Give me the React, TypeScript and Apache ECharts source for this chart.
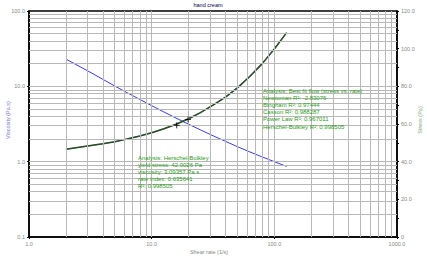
import React, { useEffect, useRef } from "react";
import * as echarts from "echarts";

// Shear rate (1/s)
const shearRate = [2, 3, 4, 5, 6.3, 8, 10, 12.6, 15.8, 20, 25, 31.6, 40, 50, 63, 79, 100, 126];
// Viscosity (Pa.s), left log axis
const viscosity = [23, 16.1, 12.4, 10.1, 8.25, 6.7, 5.54, 4.56, 3.79, 3.14, 2.64, 2.21, 1.86, 1.58, 1.35, 1.16, 1.0, 0.865];
// Stress (Pa), right linear axis
const stress = [46.6, 48.3, 49.5, 50.6, 52.0, 53.6, 55.4, 57.5, 59.9, 62.8, 66.0, 70.0, 74.3, 79.2, 85.2, 91.8, 99.8, 108.5];
// analysis range markers
const markerRate = [16, 19.8];
const markerStress = [59.3, 62.4];

const titleText = "hand cream";
const xName = "Shear rate (1/s)";
const yLeftName = "Viscosity (Pa.s)";
const yRightName = "Stress (Pa)";

const bestFitLines = [
  "Analysis: Best fit flow (stress vs. rate)",
  "Newtonian R²: -2.83076",
  "Bingham R²: 0.97444",
  "Casson R²: 0.988287",
  "Power Law R²: 0.967011",
  "Herschel-Bulkley R²: 0.998505",
];
const hbLines = [
  "Analysis: Herschel-Bulkley",
  "yield stress: 42.0026 Pa",
  "viscosity: 3.09357 Pa.s",
  "rate index: 0.635641",
  "R²: 0.998505",
];

const decadeMultipliers = [1, 2, 3, 4, 5, 6, 7, 8, 9];
const xDecades = [1, 10, 100];
const yDecades = [0.1, 1, 10];

export default function App() {
  const ref = useRef<HTMLDivElement>(null);
  useEffect(() => {
    if (!ref.current) return;
    document.body.style.margin = "0";
    const chart = echarts.init(ref.current, undefined, { renderer: "svg" });
    const xGrid: number[] = [];
    xDecades.forEach((d) => decadeMultipliers.forEach((m) => { const v = +(d * m).toPrecision(3); if (v > 1) xGrid.push(v); }));
    const yGrid: number[] = [];
    yDecades.forEach((d) => decadeMultipliers.forEach((m) => { const v = +(d * m).toPrecision(3); if (v > 0.1) yGrid.push(v); }));

    const font = "'Liberation Sans', Arial, sans-serif";
    const green = "#2a9a1a";

    chart.setOption({
      animation: false,
      grid: { left: 29, right: 30, top: 11, bottom: 22, show: true, borderColor: "#000", borderWidth: 1.5, backgroundColor: "#fff" },
      xAxis: {
        type: "log", logBase: 10, min: 1, max: 1000,
        axisLine: { show: true, lineStyle: { color: "#000", width: 1.5 } },
        axisTick: { show: true, length: 2, lineStyle: { color: "#000" } },
        axisLabel: { formatter: (v: number) => v.toFixed(1), fontSize: 5.5, color: "#888", margin: 4, fontFamily: font },
        splitLine: { show: false },
      },
      yAxis: [
        {
          type: "log", logBase: 10, min: 0.1, max: 100, position: "left",
          axisLine: { show: true, lineStyle: { color: "#000", width: 1.5 } },
          axisTick: { show: true, length: 2, lineStyle: { color: "#000" } },
          axisLabel: { formatter: (v: number) => v.toFixed(1), fontSize: 5.5, color: "#888", margin: 4, fontFamily: font },
          splitLine: { show: false },
        },
        {
          type: "value", min: 0, max: 120, interval: 20, position: "right",
          axisLine: { show: true, lineStyle: { color: "#000", width: 1.5 } },
          axisTick: { show: true, length: 2, lineStyle: { color: "#000" } },
          minorTick: { show: true, splitNumber: 2, length: 2, lineStyle: { color: "#000" } },
          axisLabel: { formatter: (v: number) => (v === 0 ? "0" : v.toFixed(1)), fontSize: 5.5, color: "#888", margin: 4, fontFamily: font },
          splitLine: { show: false },
        },
      ],
      series: [
        {
          type: "line", data: [], xAxisIndex: 0, yAxisIndex: 0, silent: true, z: 1,
          markLine: {
            silent: true, symbol: ["none", "none"], label: { show: false },
            lineStyle: { color: "#b8b8b8", width: 1, type: "solid" },
            emphasis: { disabled: true },
            data: [...xGrid.map((v) => ({ xAxis: v })), ...yGrid.map((v) => ({ yAxis: v }))],
          },
        },
        {
          type: "line", name: "viscosity", xAxisIndex: 0, yAxisIndex: 0, z: 3,
          data: shearRate.map((x, i) => [x, viscosity[i]]),
          showSymbol: false, lineStyle: { color: "#3a3ae8", width: 1 },
        },
        {
          type: "line", name: "stress", xAxisIndex: 0, yAxisIndex: 1, z: 3,
          data: shearRate.map((x, i) => [x, stress[i]]),
          showSymbol: false, lineStyle: { color: "#142814", width: 1.5 },
        },
        {
          type: "line", name: "fit", xAxisIndex: 0, yAxisIndex: 1, z: 4,
          data: shearRate.map((x, i) => [x, stress[i]]),
          showSymbol: false, lineStyle: { color: "#4a9a4a", width: 0.6, opacity: 0.7 },
        },
        {
          type: "scatter", xAxisIndex: 0, yAxisIndex: 1, z: 5,
          data: markerRate.map((x, i) => [x, markerStress[i]]),
          symbol: "path://M0,5L10,5M5,0L5,10", symbolSize: 6,
          itemStyle: { color: "rgba(0,0,0,0)", borderColor: "#000", borderWidth: 1 },
        },
      ],
      graphic: [
        { type: "text", x: 208, y: 5, style: { text: titleText, fill: "#000050", font: `5.5px ${font}`, textAlign: "center", textVerticalAlign: "middle" } },
        { type: "text", x: 209, y: 252, style: { text: xName, fill: "#888", font: `5.5px ${font}`, textAlign: "center", textVerticalAlign: "middle" } },
        { type: "text", x: 8, y: 120, rotation: Math.PI / 2, style: { text: yLeftName, fill: "#7777cc", font: `5.5px ${font}`, textAlign: "center", textVerticalAlign: "middle" } },
        { type: "text", x: 420, y: 120, rotation: Math.PI / 2, style: { text: yRightName, fill: "#77aa77", font: `5.5px ${font}`, textAlign: "center", textVerticalAlign: "middle" } },
        { type: "text", x: 263, y: 87, z: 10, style: { text: bestFitLines.join("\n"), fill: green, font: `6px ${font}`, lineHeight: 7.2 } },
        { type: "text", x: 138, y: 155, z: 10, style: { text: hbLines.join("\n"), fill: green, font: `6px ${font}`, lineHeight: 6.8 } },
      ],
    });
    return () => chart.dispose();
  }, []);
  return <div ref={ref} style={{ width: 427, height: 259 }} />;
}
